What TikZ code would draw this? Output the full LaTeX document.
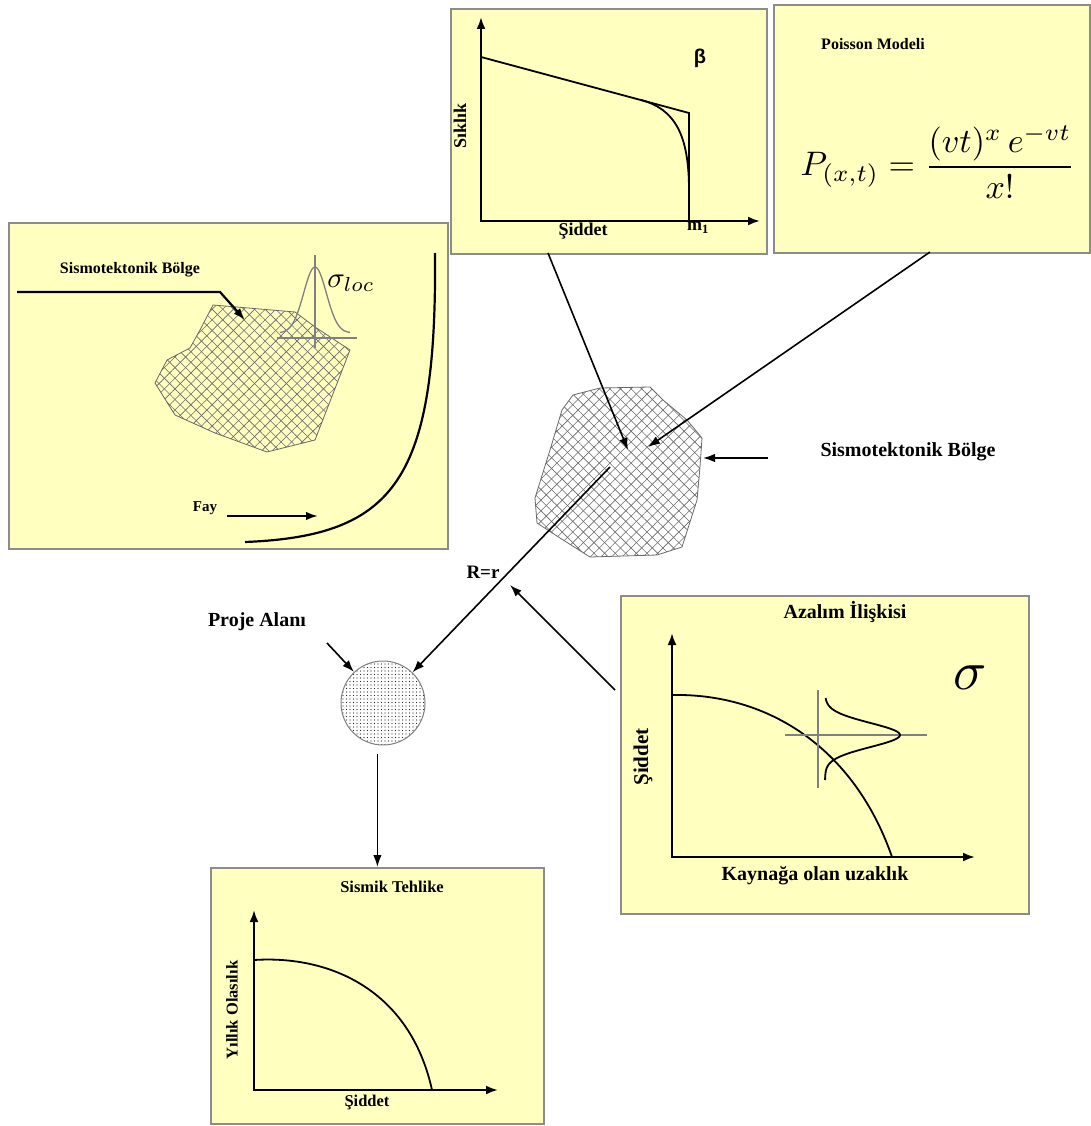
\documentclass[tikz,border=0pt]{standalone}
\usepackage{fontspec}
\setmainfont{Liberation Serif}
\newfontfamily\greekfont{Liberation Sans}
\usetikzlibrary{arrows.meta,patterns.meta,positioning}

\definecolor{panelyellow}{RGB}{255,255,192}
\definecolor{panelgray}{RGB}{140,140,140}
\definecolor{hatchgray}{RGB}{105,105,105}

\begin{document}
\begin{tikzpicture}[x=1pt,y=-1pt,
    panel/.style={draw=panelgray,line width=1.8pt,fill=panelyellow,anchor=north west,inner sep=0pt},
    axis/.style={line width=2.2pt,{Latex[length=12pt,width=9pt]}-{Latex[length=12pt,width=9pt]}},
    curve/.style={line width=1.8pt},
    conn/.style={line width=1.6pt,-{Latex[length=12pt,width=8.5pt]}},
    lbl/.style={font=\bfseries\fontsize{#1}{#1}\selectfont},
    lbl/.default=16,
    xhatch/.style={draw=hatchgray,line width=0.8pt,
        pattern={Lines[angle=45,distance=7.5pt,line width=0.6pt]},pattern color=hatchgray,
        preaction={pattern={Lines[angle=-45,distance=7.5pt,line width=0.6pt]},pattern color=hatchgray}},
    dotted fill/.style={draw=gray,line width=1pt,
        pattern={Dots[distance=3.5pt,radius=0.65pt]},pattern color=black!85}]
    \useasboundingbox (0,0) rectangle (1091,1126);

    % panels
    \node[panel,minimum width=316pt,minimum height=245pt] (grbox) at (450,8) {};
    \node[panel,minimum width=316pt,minimum height=248pt] (poisbox) at (773,4) {};
    \node[panel,minimum width=439pt,minimum height=326pt] (srcbox) at (8,222) {};
    \node[panel,minimum width=408pt,minimum height=318pt] (attbox) at (620,595) {};
    \node[panel,minimum width=333pt,minimum height=256pt] (hazbox) at (210,867) {};

    % Gutenberg-Richter
    \draw[axis] (481,17) -- (481,221) -- (760,221);
    \draw[curve] (481,57) -- (689,113) -- (689,221);
    \draw[curve] (641,100) .. controls (675,109) and (689,135) .. (689,190);
    \node[font=\bfseries\greekfont\fontsize{20}{20}\selectfont] (beta) at (700,58) {β};
    \node[lbl=18,rotate=90] (freq) at (460,126) {Sıklık};
    \node[lbl=18] (mag) at (583,231) {Şiddet};
    \node[lbl=18] (mmax) at (698,228) {m\textsubscript{1}};

    % Poisson
    \node[lbl=16] (poistitle) at (873,44) {Poisson Modeli};
    \node[scale=3.4] (poisson) at (938,162) {$\displaystyle P_{(x,t)} = \frac{(vt)^x\, e^{-vt}}{x!}$};

    % kaynak bolgesi
    \node[lbl=16] (srctitle) at (130,270) {Sismotektonik Bölge};
    \draw[xhatch] (213,305) -- (295,312) -- (315,327) -- (350,350) -- (315,440) -- (267,452)
        -- (215,433) -- (175,415) -- (155,383) -- (167,360) -- (190,348) -- (200,330) -- cycle;
    \coordinate (srcin) at (17,292);
    \coordinate (srczone) at (245,320);
    \draw[conn,line width=2.2pt] (srcin) -- (220,292) -- (srczone);
    \draw[gray,line width=1.3pt] (315,255) -- (315,348) (277,338) -- (357,338);
    \draw[gray,line width=1.3pt,domain=-35:35,samples=60] plot ({315+\x},{333-66*exp(-(\x/16)^2)});
    \node[scale=2.9] (sigloc) at (351,283) {$\sigma_{loc}$};
    \draw[line width=2.2pt] (435,253) .. controls (437,480) and (395,536) .. (245,542);
    \node[lbl=15] (fay) at (205,508) {Fay};
    \coordinate (fayin) at (227,516);
    \coordinate (fayline) at (318,516);
    \draw[conn,line width=2pt] (fayin) -- (fayline);

    % orta bolge
    \draw[xhatch] (573,395) -- (600,388) -- (650,387) -- (663,400) -- (687,420) -- (702,438)
        -- (700,467) -- (697,500) -- (682,547) -- (657,555) -- (590,557) -- (560,538)
        -- (537,523) -- (535,498) -- (550,450) -- (562,410) -- cycle;
    \coordinate (grout) at (548,253);
    \coordinate (zoneA) at (628,450);
    \coordinate (poisout) at (930,252);
    \coordinate (zoneB) at (648,447);
    \coordinate (zonelbl) at (768,458);
    \coordinate (zoneC) at (703,458);
    \coordinate (rstart) at (610,467);
    \draw[conn] (grout) -- (zoneA);
    \draw[conn] (poisout) -- (zoneB);
    \draw[conn] (zonelbl) -- (zoneC);
    \node[lbl=20] (zonetitle) at (908,452) {Sismotektonik Bölge};
    \node[lbl=19] (rlbl) at (483,572) {R=r};

    % proje alani
    \node[circle,minimum size=84pt,dotted fill] (site) at (383,703) {};
    \node[lbl=20] (sitetitle) at (257,622) {Proje Alanı};
    \coordinate (sitein) at (327,643);
    \draw[conn] (rstart) -- (site);
    \draw[conn] (sitein) -- (site);
    \draw[conn] ([yshift=-8pt]site.south -| hazbox.north) -- (hazbox.north);
    \coordinate (attout) at (615,690);
    \coordinate (rmark) at (510,585);
    \draw[conn] (attout) -- (rmark);

    % azalim
    \node[lbl=20] (atttitle) at (845,612) {Azalım İlişkisi};
    \draw[axis] (672,633) -- (672,857) -- (975,857);
    \draw[curve] (672,695) .. controls (770,693) and (855,750) .. (892,857);
    \draw[gray,line width=2pt] (818,690) -- (818,788) (785,735) -- (927,735);
    \draw[curve,domain=-37:45,samples=60] plot ({825+75*exp(-(\x/17)^2)},{735+\x});
    \node[scale=5.5] (sig) at (970,678) {$\sigma$};
    \node[lbl=21,rotate=90] (attmag) at (643,757) {Şiddet};
    \node[lbl=20] (dist) at (815,876) {Kaynağa olan uzaklık};

    % sismik tehlike
    \node[lbl=16.5] (haztitle) at (392,887) {Sismik Tehlike};
    \draw[axis] (254,910) -- (254,1090) -- (498,1090);
    \draw[curve] (254,960) .. controls (330,955) and (410,990) .. (432,1090);
    \node[lbl=16.5,rotate=90] (annual) at (232,1010) {Yıllık Olasılık};
    \node[lbl=16.5] (hazmag) at (367,1102) {Şiddet};
\end{tikzpicture}
\end{document}
